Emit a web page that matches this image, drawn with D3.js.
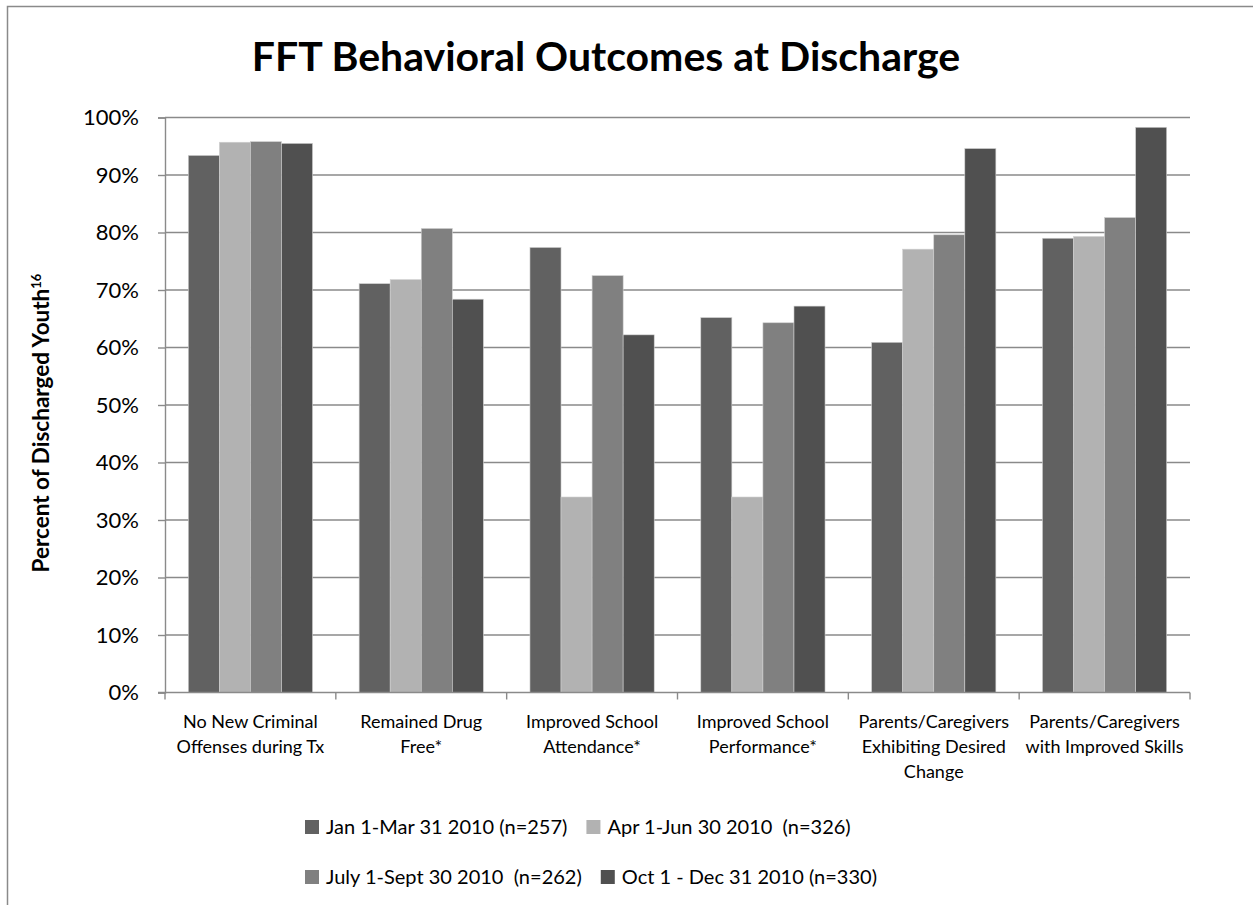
<!DOCTYPE html>
<html>
<head>
<meta charset="utf-8">
<script src="https://cdn.jsdelivr.net/npm/d3@7/dist/d3.min.js"></script>
<style>
  html, body { margin: 0; padding: 0; background: #fff; }
  svg { display: block; }
  text { font-family: Lato, "Open Sans", sans-serif; fill: #000; }
</style>
</head>
<body>
<svg id="chart" width="1253" height="905"></svg>
<script>
// Outcome categories (wrapped into lines for the axis)
const categories = [
  ["No New Criminal", "Offenses during Tx"],
  ["Remained Drug", "Free*"],
  ["Improved School", "Attendance*"],
  ["Improved School", "Performance*"],
  ["Parents/Caregivers", "Exhibiting Desired", "Change"],
  ["Parents/Caregivers", "with Improved Skills"]
];

// Quarterly series names and percentages per category
const seriesNames = [
  "Jan 1-Mar 31 2010 (n=257)",
  "Apr 1-Jun 30 2010  (n=326)",
  "July 1-Sept 30 2010  (n=262)",
  "Oct 1 - Dec 31 2010 (n=330)"
];
const q1Values = [93.4, 71.1, 77.4, 65.2, 60.9, 79.0];
const q2Values = [95.7, 71.8, 34.0, 34.0, 77.1, 79.3];
const q3Values = [95.8, 80.7, 72.5, 64.3, 79.6, 82.6];
const q4Values = [95.5, 68.4, 62.2, 67.2, 94.6, 98.3];

const yTicks = [0, 10, 20, 30, 40, 50, 60, 70, 80, 90, 100];

const seriesValues = [q1Values, q2Values, q3Values, q4Values];
const colors = ["#616161", "#b2b2b2", "#808080", "#505050"];

const svg = d3.select("#chart");

// Outer chart frame
svg.append("rect")
  .attr("x", 7.5).attr("y", 6.5)
  .attr("width", 1400).attr("height", 1000)
  .attr("fill", "none").attr("stroke", "#8a8a8a").attr("stroke-width", 1.5);

const plot = { left: 165, right: 1190, top: 117.5, bottom: 692.5 };

const catIdx = categories.map((d, i) => i);
const x0 = d3.scaleBand().domain(catIdx).range([plot.left, plot.right]).padding(0);
const barW = x0.bandwidth() / 5.5;
const x1 = d3.scaleBand().domain(d3.range(seriesValues.length))
  .range([barW * 0.75, barW * 4.75]).padding(0);
const y = d3.scaleLinear().domain([0, 100]).range([plot.bottom, plot.top]);

// Horizontal gridlines
svg.append("g")
  .selectAll("line")
  .data(yTicks.filter(t => t > 0))
  .join("line")
  .attr("x1", plot.left).attr("x2", plot.right)
  .attr("y1", d => y(d)).attr("y2", d => y(d))
  .attr("stroke", "#8a8a8a").attr("stroke-width", 1.4);

// Bars
const groups = svg.append("g")
  .selectAll("g")
  .data(catIdx)
  .join("g")
  .attr("transform", d => `translate(${x0(d)},0)`);

groups.selectAll("rect")
  .data(ci => seriesValues.map((vals, si) => ({ si, v: vals[ci] })))
  .join("rect")
  .attr("x", d => x1(d.si))
  .attr("width", x1.bandwidth())
  .attr("y", d => y(d.v))
  .attr("height", d => y(0) - y(d.v))
  .attr("fill", d => colors[d.si])
  .attr("stroke", "#d0d0d0")
  .attr("stroke-width", 0.6);

// Y axis
const yAxis = svg.append("g")
  .attr("transform", `translate(${plot.left},0)`)
  .call(d3.axisLeft(y).tickValues(yTicks).tickFormat(d => d + "%").tickSize(7).tickPadding(19));
yAxis.select(".domain").attr("stroke", "#8a8a8a").attr("stroke-width", 1.4);
yAxis.selectAll(".tick line").attr("stroke", "#8a8a8a").attr("stroke-width", 1.4);
yAxis.selectAll(".tick text")
  .style("font-family", "Lato, sans-serif")
  .style("font-size", "22px").attr("fill", "#000");

// X axis with category boundary ticks
const xAxisG = svg.append("g");
xAxisG.append("line")
  .attr("x1", plot.left - 7).attr("x2", plot.right)
  .attr("y1", plot.bottom).attr("y2", plot.bottom)
  .attr("stroke", "#8a8a8a").attr("stroke-width", 1.4);
xAxisG.selectAll("line.tk")
  .data(d3.range(categories.length + 1))
  .join("line")
  .attr("class", "tk")
  .attr("x1", i => i < categories.length ? x0(i) : plot.right)
  .attr("x2", i => i < categories.length ? x0(i) : plot.right)
  .attr("y1", plot.bottom).attr("y2", plot.bottom + 7)
  .attr("stroke", "#8a8a8a").attr("stroke-width", 1.4);

const catLabels = xAxisG.selectAll("text.cat")
  .data(catIdx)
  .join("text")
  .attr("class", "cat")
  .attr("text-anchor", "middle")
  .style("font-size", "18px");
catLabels.selectAll("tspan")
  .data(i => categories[i].map(line => ({ i, line })))
  .join("tspan")
  .attr("x", d => x0(d.i) + x0.bandwidth() / 2)
  .attr("y", (d, k) => 728 + k * 25)
  .text(d => d.line);

// Title
svg.append("text")
  .attr("x", 606).attr("y", 71)
  .attr("text-anchor", "middle")
  .style("font-size", "41px").style("font-weight", "bold")
  .text("FFT Behavioral Outcomes at Discharge");

// Y axis title with footnote marker
const yTitle = svg.append("text")
  .attr("transform", `translate(49,${(plot.top + plot.bottom) / 2 + 18}) rotate(-90)`)
  .attr("text-anchor", "middle")
  .style("font-size", "22.5px").style("font-weight", "bold");
yTitle.append("tspan").text("Percent of Discharged Youth");
yTitle.append("tspan").attr("dy", -8).style("font-size", "13px").text("16");

// Legend: two rows, items flowing left to right
const legendRows = [[0, 1], [2, 3]];
legendRows.forEach((row, r) => {
  let cx = 305;
  const cy = 827 + r * 50;
  row.forEach(si => {
    svg.append("rect")
      .attr("x", cx).attr("y", cy - 7)
      .attr("width", 14).attr("height", 14)
      .attr("fill", colors[si]);
    const t = svg.append("text")
      .attr("x", cx + 21).attr("y", cy)
      .attr("dy", "0.36em")
      .style("font-size", "20px")
      .style("white-space", "pre")
      .text(seriesNames[si]);
    cx += 21 + t.node().getComputedTextLength() + 19;
  });
});
</script>
</body>
</html>
